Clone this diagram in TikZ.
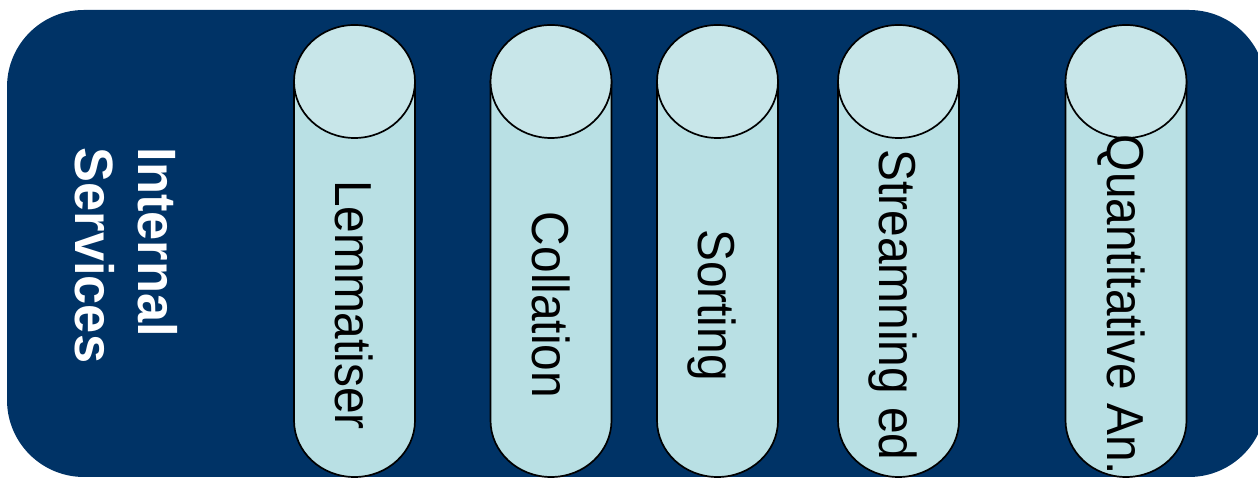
\documentclass[tikz,border=0pt]{standalone}
\usepackage{fontspec}
\setmainfont{Liberation Sans}
\newfontfamily\labfont[FakeStretch=0.92]{Liberation Sans}
\newfontfamily\hdfont[FakeStretch=0.97]{Liberation Sans}
\definecolor{bgblue}{RGB}{0,51,102}
\definecolor{cylbody}{RGB}{185,224,228}
\definecolor{cyltopc}{RGB}{200,230,233}
\begin{document}
\begin{tikzpicture}[x=1pt,y=1pt,
  cylbodystyle/.style={fill=cylbody, draw=black, line width=1.7pt},
  cyltopstyle/.style={fill=cyltopc, draw=black, line width=1.7pt},
  lab/.style={rotate=-90, anchor=base, inner sep=0pt, text=black,
    font=\labfont\fontsize{52}{60}\selectfont},
  hd/.style={rotate=-90, anchor=base west, inner sep=0pt, text=white,
    font=\hdfont\bfseries\fontsize{54}{62}\selectfont}]
\useasboundingbox (0,0) rectangle (1258,478);
\clip (0,0) rectangle (1258,478);
\fill[bgblue, rounded corners=77pt] (7,1) rectangle (1266,468);
% cylinders
\foreach \cx/\nm/\txt in {354.5/lem/Lemmatiser, 551/col/Collation, 717.5/sor/Sorting, 898.5/str/Streamning ed, 1126/qua/Quantitative An.}{
  \draw[cylbodystyle] (\cx-60.5,396.5) -- (\cx-60.5,57.5)
    arc[start angle=180, end angle=360, x radius=60.5pt, y radius=56.5pt]
    -- (\cx+60.5,396.5) -- cycle;
  \draw[cyltopstyle] (\cx,396.5) ellipse [x radius=60.5pt, y radius=56.5pt];
  \node[lab] (\nm) at (\cx-19,173) {\txt};
}
\node[hd] (internal) at (138,330.5) {Internal};
\node[hd] (services) at (75,330.5) {Services};
\end{tikzpicture}
\end{document}
